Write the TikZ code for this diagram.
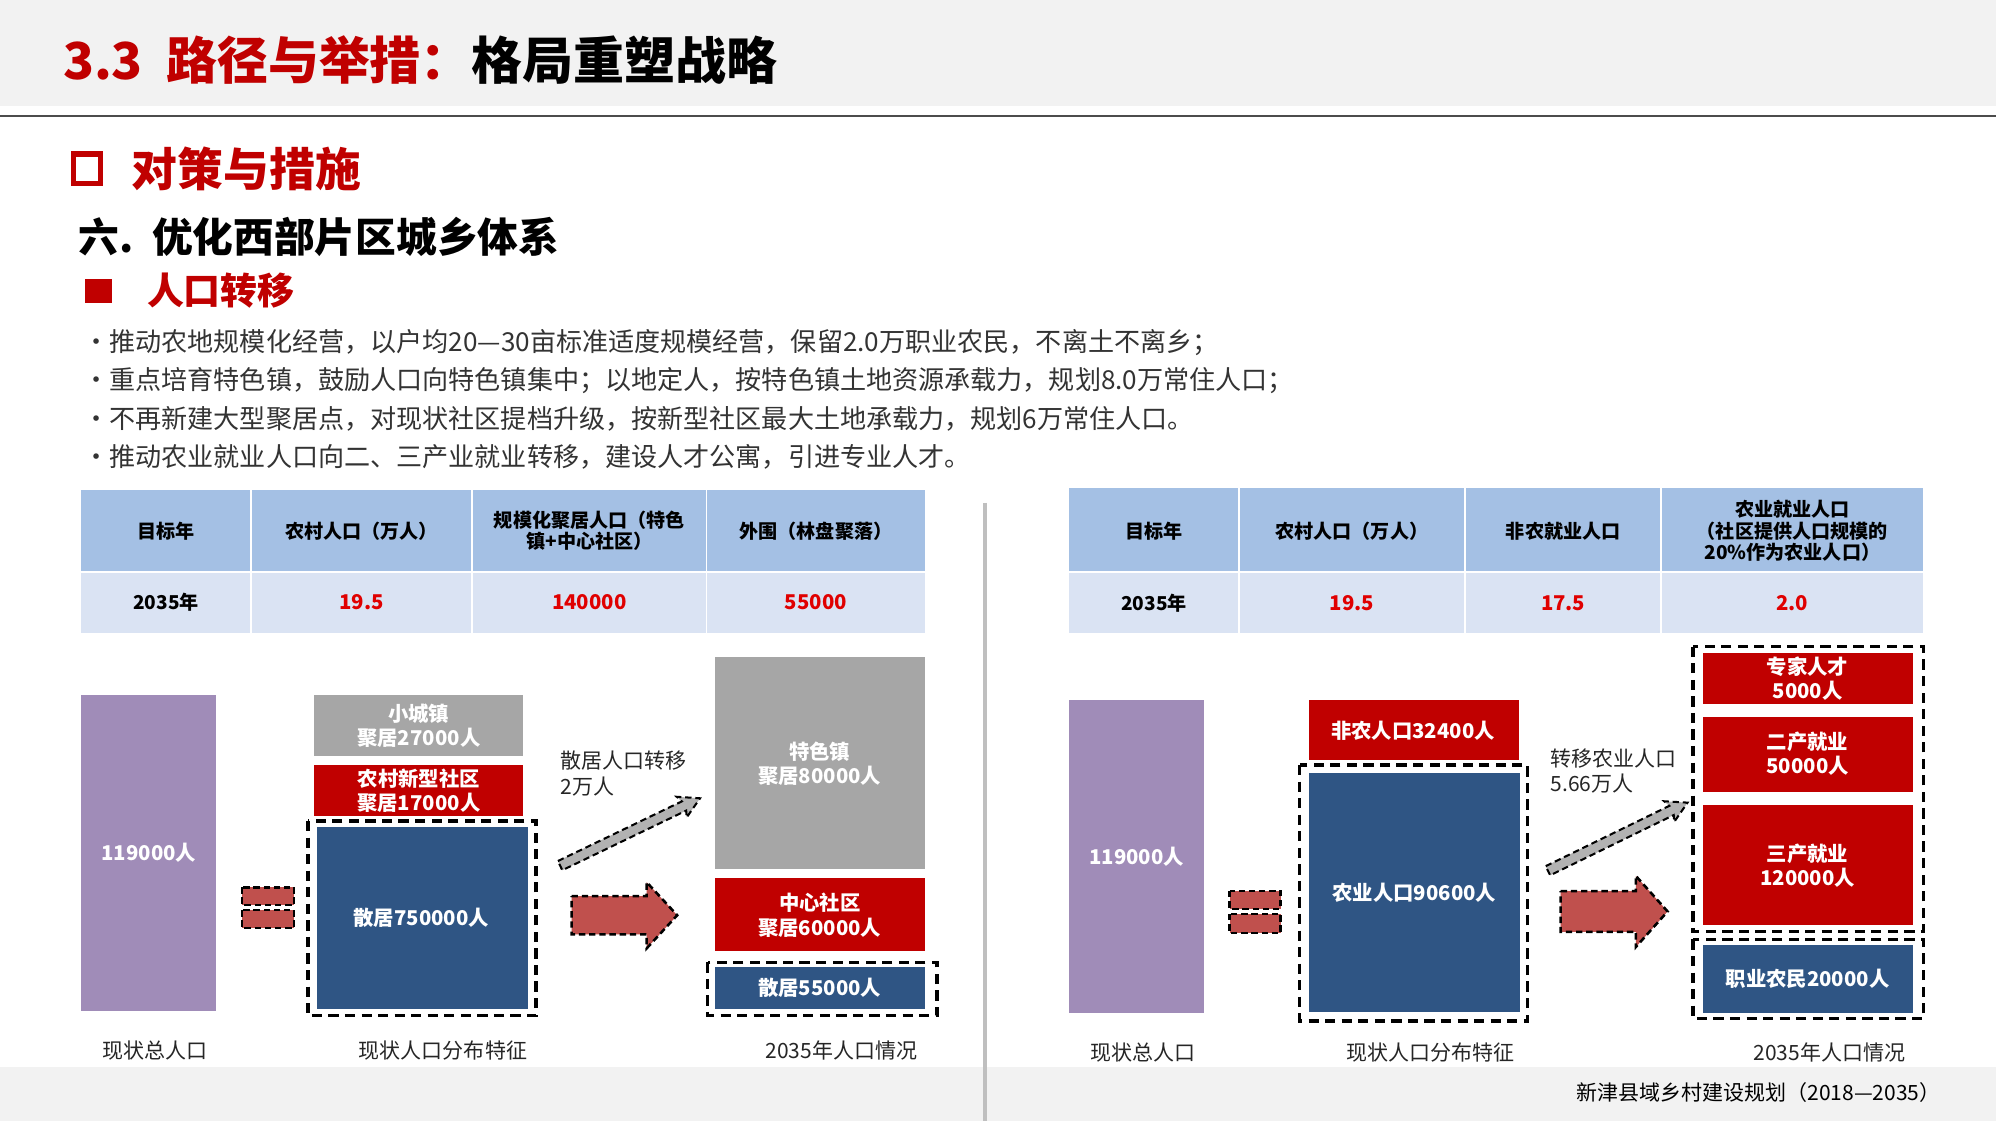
\documentclass[tikz,border=0pt]{standalone}
\usepackage{fontspec}
\setmainfont{Noto Sans CJK SC}
\definecolor{tred}{HTML}{C00000}
\definecolor{vred}{HTML}{E00000}
\definecolor{apur}{HTML}{A08CB8}
\definecolor{agray}{HTML}{A6A6A6}
\definecolor{ablue}{HTML}{2F5584}
\definecolor{ared}{HTML}{C0504D}
\definecolor{thead}{HTML}{A4C0E4}
\definecolor{trow}{HTML}{DAE3F3}
\definecolor{band}{HTML}{F2F2F2}
\tikzset{
 blk/.style={inner sep=0pt, text=white, font=\bfseries\fontsize{16}{19}\selectfont, align=center},
 dbox/.style={draw=black, line width=2.5pt, dash pattern=on 8pt off 5pt},
 sdash/.style={draw=black, line width=2pt, dash pattern=on 5pt off 3pt, fill=ared},
 lab/.style={font=\fontsize{16.5}{20}\selectfont, text=black!85},
 th/.style={font=\bfseries\fontsize{15}{17}\selectfont, align=center},
 tv/.style={font=\bfseries\fontsize{16}{19}\selectfont, text=vred},
 bul/.style={anchor=west, font=\fontsize{20.5}{24}\selectfont, text=black!80},
}
\begin{document}
\begin{tikzpicture}[x=1pt,y=-1pt]
\useasboundingbox (0,0) rectangle (1568,881);
\fill[white] (0,0) rectangle (1568,881);
% header
\fill[band] (0,0) rectangle (1568,83);
\draw[black!70, line width=1.2pt] (0,91) -- (1568,91);
\node[anchor=west, font=\bfseries\fontsize{40}{46}\selectfont] (title) at (46,47) {\textcolor{tred}{3.3\ \ 路径与举措：}格局重塑战略};
\draw[tred, line width=4pt] (58,121) rectangle (79,144);
\node[anchor=west, text=tred, font=\bfseries\fontsize{36}{42}\selectfont] (h1) at (100,133) {对策与措施};
\node[anchor=west, font=\bfseries\fontsize{32}{38}\selectfont] (h2) at (58,186) {六.\ \ 优化西部片区城乡体系};
\fill[tred] (67,219) rectangle (88,238);
\node[anchor=west, text=tred, font=\bfseries\fontsize{29}{34}\selectfont] (h3) at (112,228) {人口转移};
\node[bul] (b1) at (62,269) {・推动农地规模化经营，以户均20—30亩标准适度规模经营，保留2.0万职业农民，不离土不离乡；};
\node[bul] (b2) at (62,299) {・重点培育特色镇，鼓励人口向特色镇集中；以地定人，按特色镇土地资源承载力，规划8.0万常住人口；};
\node[bul] (b3) at (62,329) {・不再新建大型聚居点，对现状社区提档升级，按新型社区最大土地承载力，规划6万常住人口。};
\node[bul] (b4) at (62,359) {・推动农业就业人口向二、三产业就业转移，建设人才公寓，引进专业人才。};
% footer
\fill[band] (0,838) rectangle (1568,881);
\draw[black!25, line width=3pt] (774,395) -- (774,881);
\node[anchor=east, font=\fontsize{16.5}{19}\selectfont] (foot) at (1528,858) {新津县域乡村建设规划（2018—2035）};
% left table
\fill[thead] (64,385) rectangle (727,449);
\fill[trow] (64,449) rectangle (727,497);
\foreach \x in {197,371,555} \draw[white, line width=1.5pt] (\x,385) -- (\x,497);
\draw[white, line width=1.5pt] (64,449) -- (727,449);
\node[th] (lt1) at (130.5,417) {目标年};
\node[th] (lt2) at (284,417) {农村人口（万人）};
\node[th] (lt3) at (463,417) {规模化聚居人口（特色\\镇+中心社区）};
\node[th] (lt4) at (641,417) {外围（林盘聚落）};
\node[th] (lv1) at (130.5,473) {2035年};
\node[tv] (lv2) at (284,473) {19.5};
\node[tv] (lv3) at (463,473) {140000};
\node[tv] (lv4) at (641,473) {55000};
% right table
\fill[thead] (840,383) rectangle (1511,449);
\fill[trow] (840,449) rectangle (1511,497);
\foreach \x in {973,1151,1305} \draw[white, line width=1.5pt] (\x,383) -- (\x,497);
\draw[white, line width=1.5pt] (840,449) -- (1511,449);
\node[th] (rt1) at (906.5,417) {目标年};
\node[th] (rt2) at (1062,417) {农村人口（万人）};
\node[th] (rt3) at (1228,417) {非农就业人口};
\node[th] (rt4) at (1408,417) {农业就业人口\\（社区提供人口规模的\\20\%作为农业人口）};
\node[th] (rv1) at (906.5,474) {2035年};
\node[tv] (rv2) at (1062,474) {19.5};
\node[tv] (rv3) at (1228,474) {17.5};
\node[tv] (rv4) at (1408,474) {2.0};
% left diagram
\fill[apur] (64,546) rectangle (170,794);
\node[blk] (l119) at (117,670) {119000人};
\draw[sdash] (190,697) rectangle (231,711);
\draw[sdash] (190,715) rectangle (231,729);
\fill[agray] (247,546) rectangle (411,594);
\node[blk] (lxcz) at (329,570) {小城镇\\聚居27000人};
\fill[tred] (247,601) rectangle (411,641);
\node[blk] (lnc) at (329,621) {农村新型社区\\聚居17000人};
\fill[ablue] (249,650) rectangle (415,793);
\draw[dbox] (242,645) rectangle (421,798);
\node[blk] (lsj) at (331,721) {散居750000人};
\begin{scope}[shift={(440,680)}, rotate=25.7]
\draw[dbox, line width=1.6pt, dash pattern=on 5pt off 3pt, fill=black!30] (0,-4) -- (108,-4) -- (106,-9) -- (122,0) -- (106,9) -- (108,4) -- (0,4) -- cycle;
\end{scope}
\node[lab, anchor=north west, align=left, inner sep=0pt] (ltr) at (440,590) {散居人口转移\\2万人};
\draw[sdash] (449,704) -- (508,704) -- (508,693) -- (532,719) -- (508,745) -- (508,734) -- (449,734) -- cycle;
\fill[agray] (562,516) rectangle (727,683);
\node[blk] (ltsz) at (644,600) {特色镇\\聚居80000人};
\fill[tred] (562,690) rectangle (727,747);
\node[blk] (lzx) at (644,719) {中心社区\\聚居60000人};
\fill[ablue] (562,760) rectangle (727,793);
\draw[dbox] (556,756) rectangle (736,798);
\node[blk] (lsj2) at (644,776) {散居55000人};
\node[lab] (lc1) at (122,825) {现状总人口};
\node[lab] (lc2) at (348,825) {现状人口分布特征};
\node[lab] (lc3) at (661,825) {2035年人口情况};
% right diagram
\fill[apur] (840,550) rectangle (946,796);
\node[blk] (r119) at (893,673) {119000人};
\draw[sdash] (966,700) rectangle (1006,714);
\draw[sdash] (966,718) rectangle (1006,733);
\fill[tred] (1028,550) rectangle (1193,597);
\node[blk] (rfn) at (1110,574) {非农人口32400人};
\fill[ablue] (1028,607) rectangle (1194,795);
\draw[dbox] (1021,601) rectangle (1200,802);
\node[blk] (rny) at (1111,701) {农业人口90600人};
\begin{scope}[shift={(1216,684)}, rotate=26]
\draw[dbox, line width=1.6pt, dash pattern=on 5pt off 3pt, fill=black!30] (0,-4) -- (108,-4) -- (106,-9) -- (122,0) -- (106,9) -- (108,4) -- (0,4) -- cycle;
\end{scope}
\node[lab, anchor=north west, align=left, inner sep=0pt] (rtr) at (1218,588) {转移农业人口\\5.66万人};
\draw[sdash] (1226,700) -- (1285,700) -- (1285,688) -- (1310,716) -- (1285,744) -- (1285,732) -- (1226,732) -- cycle;
\fill[tred] (1338,513) rectangle (1503,553);
\node[blk] (rzj) at (1420,533) {专家人才\\5000人};
\fill[tred] (1338,563) rectangle (1503,622);
\node[blk] (r2c) at (1420,592) {二产就业\\50000人};
\fill[tred] (1338,632) rectangle (1503,727);
\node[blk] (r3c) at (1420,680) {三产就业\\120000人};
\draw[dbox] (1330,508) rectangle (1511,732);
\fill[ablue] (1338,742) rectangle (1503,796);
\draw[dbox] (1330,738) rectangle (1511,800);
\node[blk] (rzy) at (1420,769) {职业农民20000人};
\node[lab] (rc1) at (898,827) {现状总人口};
\node[lab] (rc2) at (1124,827) {现状人口分布特征};
\node[lab] (rc3) at (1437,827) {2035年人口情况};
\end{tikzpicture}
\end{document}
